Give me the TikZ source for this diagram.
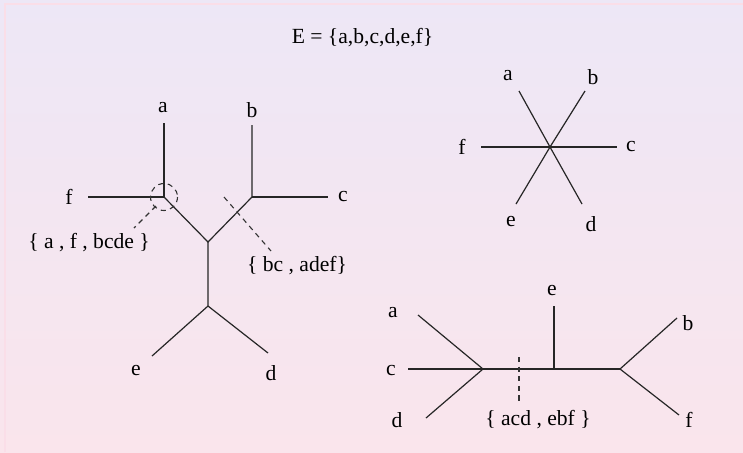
\documentclass[tikz,border=0pt]{standalone}
\usepackage{fontspec}
\setmainfont{Liberation Serif}
\usetikzlibrary{calc}

\definecolor{bgtop}{RGB}{237,231,246}
\definecolor{bgbot}{RGB}{250,229,236}
\definecolor{framepink}{RGB}{250,222,232}

\begin{document}
\begin{tikzpicture}[
  x=0.5pt, y=-0.5pt,
  font=\fontsize{10.8}{13}\selectfont,
  br/.style={line width=0.6pt, draw=black!85},
  leaf/.style={inner sep=1pt},
  cut/.style={line width=0.55pt, draw=black!80, dashed, dash pattern=on 2.6pt off 2.2pt},
  lbl/.style={inner sep=1pt},
]

% ---------------- background ----------------
\useasboundingbox (0,0) rectangle (743,452);
\shade[top color=bgtop, bottom color=bgbot] (0,0) rectangle (743,452);
\draw[framepink, line width=1pt] (5,452) -- (5,4) -- (743,4);

% ---------------- title ----------------
\node[lbl, anchor=base] (title) at (362.5,43) {E = \{a,b,c,d,e,f\}};

% ---------------- left tree (cuts) ----------------
\coordinate (u1) at (164,197);
\coordinate (u2) at (208,242);
\coordinate (u3) at (252,197);
\coordinate (u4) at (208,306);
\coordinate (ua) at (164,123);
\coordinate (uf) at (88,197);
\coordinate (ub) at (252,125);
\coordinate (uc) at (328,197);
\coordinate (ue) at (152,356);
\coordinate (ud) at (268,353);

\node[leaf] (la) at (163,108) {a};
\node[leaf] (lf) at (69,197)  {f};
\node[leaf] (lb) at (252,110) {b};
\node[leaf] (lc) at (343,197) {c};
\node[leaf] (le) at (136,371) {e};
\node[leaf] (ld) at (271,373) {d};

\draw[br] (ua) -- (u1) -- (uf);
\draw[br] (u1) -- (u2) -- (u3) -- (ub);
\draw[br] (u3) -- (uc);
\draw[br] (u2) -- (u4) -- (ue);
\draw[br] (u4) -- (ud);

% trivial split at the vertex
\draw[cut] (u1) circle[radius=13.5];
\node[lbl] (s1) at (89,243) {\{ a , f , bcde \}};
\coordinate (s1a) at (156,206);
\coordinate (s1b) at (134,228);
\draw[cut] (s1a) -- (s1b);

% split across the edge u2--u3
\node[lbl] (s2) at (297,266) {\{ bc , adef\}};
\coordinate (s2a) at (224,197);
\coordinate (s2b) at (271,251);
\draw[cut] (s2a) -- (s2b);

% ---------------- star tree ----------------
\coordinate (hub) at (550,147);
\coordinate (ka) at (519,91);
\coordinate (kb) at (585,91);
\coordinate (kf) at (481,147);
\coordinate (kc) at (617,147);
\coordinate (ke) at (516,204);
\coordinate (kd) at (582,204);

\node[leaf] (ma) at (508,76)  {a};
\node[leaf] (mb) at (593,77)  {b};
\node[leaf] (mf) at (462,147) {f};
\node[leaf] (mc) at (631,147) {c};
\node[leaf] (me) at (511,222) {e};
\node[leaf] (md) at (591,224) {d};

\foreach \k in {ka,kb,kf,kc,ke,kd}
  \draw[br] (hub) -- (\k);

% ---------------- right tree ----------------
\coordinate (v1) at (483,369);
\coordinate (v2) at (554,369);
\coordinate (v3) at (620,369);
\coordinate (va) at (418,315);
\coordinate (vc) at (408,369);
\coordinate (vd) at (426,418);
\coordinate (ve) at (554,306);
\coordinate (vb) at (677,318);
\coordinate (vf) at (679,415);

\node[leaf] (na) at (393,313) {a};
\node[leaf] (nc) at (391,371) {c};
\node[leaf] (nd) at (397,420) {d};
\node[leaf] (ne) at (552,291) {e};
\node[leaf] (nb) at (688,323) {b};
\node[leaf] (nf) at (689,420) {f};

\draw[br] (va) -- (v1) -- (vd);
\draw[br] (vc) -- (v1) -- (v2) -- (v3);
\draw[br] (ve) -- (v2);
\draw[br] (vb) -- (v3) -- (vf);

\node[lbl] (s3) at (538,420) {\{ acd , ebf \}};
\coordinate (s3a) at (519,357);
\coordinate (s3b) at (519,401);
\draw[cut] (s3a) -- (s3b);

\end{tikzpicture}
\end{document}
